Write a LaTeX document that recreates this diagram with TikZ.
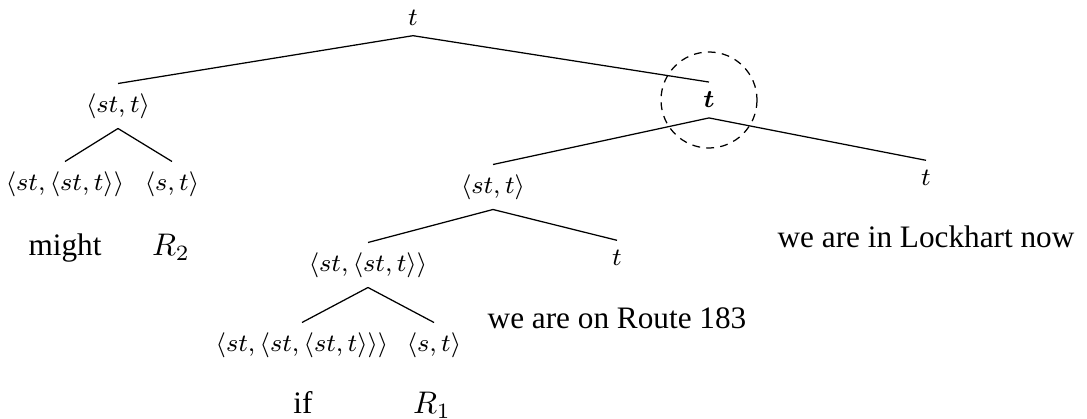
\documentclass[tikz,border=0pt]{standalone}
\usepackage{amsmath,amssymb}
\usepackage{bm}
\usepackage{fontspec}
\setmainfont{Liberation Serif}
\usetikzlibrary{positioning}

\begin{document}
\begin{tikzpicture}[x=0.32pt,y=-0.32pt,
  lbl/.style={font=\footnotesize,inner xsep=1pt,inner ysep=3pt},
  leaf/.style={inner sep=0pt}]
  \useasboundingbox (0,0) rectangle (1087,419);
  % types
  \node[lbl] (tRoot) at (413,18) {$t$};
  \node[lbl] (mightP) at (118,106) {$\langle st,t\rangle$};
  \node[lbl] (mightF) at (65,184) {$\langle st,\langle st,t\rangle\rangle$};
  \node[lbl] (mightA) at (172,184) {$\langle s,t\rangle$};
  \node[lbl] (tMid) at (709,100) {$\bm{t}$};
  \node[lbl] (ifP) at (493,187) {$\langle st,t\rangle$};
  \node[lbl] (tLock) at (926,178) {$t$};
  \node[lbl] (ifQ) at (368,265) {$\langle st,\langle st,t\rangle\rangle$};
  \node[lbl] (tRoute) at (617,258) {$t$};
  \node[lbl] (ifF) at (302,345) {$\langle st,\langle st,\langle st,t\rangle\rangle\rangle$};
  \node[lbl] (ifA) at (434,345) {$\langle s,t\rangle$};
  % words
  \node[leaf] (wMight) at (65,248) {might};
  \node[leaf] (wR2) at (171,247) {$R_2$};
  \node[leaf] (wIf) at (303,403) {if};
  \node[leaf] (wR1) at (432,405) {$R_1$};
  \node[leaf] (wRoute) at (617,318) {we are on Route 183};
  \node[leaf] (wLock) at (926,237) {we are in Lockhart now};
  % branches
  \draw (tRoot.south) -- (mightP.north);
  \draw (tRoot.south) -- (tMid.north);
  \draw (mightP.south) -- (mightF.north);
  \draw (mightP.south) -- (mightA.north);
  \draw (tMid.south) -- (ifP.north);
  \draw (tMid.south) -- (tLock.north);
  \draw (ifP.south) -- (ifQ.north);
  \draw (ifP.south) -- (tRoute.north);
  \draw (ifQ.south) -- (ifF.north);
  \draw (ifQ.south) -- (ifA.north);
  \draw[dash pattern=on 2.5pt off 2pt] (tMid) circle[radius=48];
\end{tikzpicture}
\end{document}
